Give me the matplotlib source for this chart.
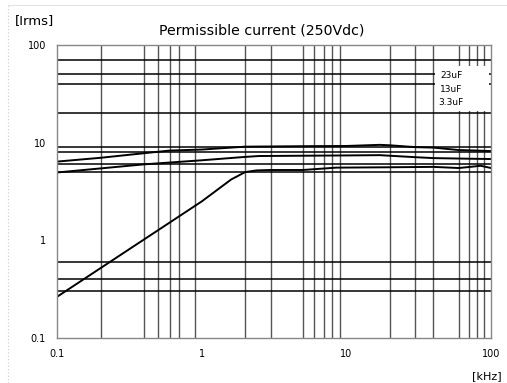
import matplotlib
matplotlib.use("Agg")
import matplotlib.pyplot as plt
from matplotlib.patches import Rectangle
from matplotlib.lines import Line2D

# Ripple current ratings per capacitance (frequency in kHz, current in Arms)
freq_23uf = [0.1, 0.2, 0.4, 0.6, 1, 2, 5, 10, 17, 20, 30, 40, 60, 80, 100]
irms_23uf = [6.4, 7.0, 7.8, 8.3, 8.5, 9.1, 9.2, 9.25, 9.5, 9.4, 9.0, 8.9, 8.4, 8.3, 8.2]

freq_13uf = [0.1, 0.4, 1, 2, 2.5, 5, 10, 17, 30, 40, 70, 100]
irms_13uf = [4.95, 6.0, 6.6, 7.15, 7.3, 7.35, 7.4, 7.45, 7.1, 6.95, 6.85, 6.8]

freq_3_3uf = [0.1, 1, 1.6, 2, 2.4, 3, 5, 6, 8.5, 20, 40, 60, 85, 100]
irms_3_3uf = [0.264, 2.5, 4.2, 5.0, 5.2, 5.25, 5.25, 5.35, 5.55, 5.6, 5.65, 5.5, 5.8, 5.5]

series_labels = ["23uF", "13uF", "3.3uF"]

# Grid positions
x_grid = [0.2, 0.4, 0.5, 0.6, 0.7, 0.9, 2, 3, 5, 6, 7, 8, 9, 20, 30, 40, 60, 70, 80, 90]
y_grid = [0.3, 0.4, 0.6, 5, 6, 8, 9, 20, 40, 50, 70]

x_ticks = [0.1, 1, 10, 100]
x_tick_labels = ["0.1", "1", "10", "100"]
y_ticks = [0.1, 1, 10, 100]
y_tick_labels = ["0.1", "1", "10", "100"]

plt.rcParams['font.family'] = ['DejaVu Sans']

fig = plt.figure(figsize=(5.07, 3.83), dpi=100)

# faint page border
fig.add_artist(Line2D([8 / 507, 8 / 507], [0, 1 - 5 / 383], transform=fig.transFigure,
                      color="#cccccc", lw=0.8, ls=(0, (1, 2))))
fig.add_artist(Line2D([8 / 507, 1], [1 - 5 / 383, 1 - 5 / 383], transform=fig.transFigure,
                      color="#e4e4e4", lw=0.8))

ax = fig.add_axes([57 / 507, 1 - 338 / 383, 434 / 507, 293 / 383])
ax.set_xscale("log")
ax.set_yscale("log")
ax.set_xlim(0.1, 100)
ax.set_ylim(0.1, 100)

for xv in x_grid:
    ax.axvline(xv, color="#555555", lw=1.0, zorder=1)
for yv in y_grid:
    ax.axhline(yv, color="black", lw=1.1, zorder=1)

for f, i in [(freq_23uf, irms_23uf), (freq_13uf, irms_13uf), (freq_3_3uf, irms_3_3uf)]:
    ax.plot(f, i, color="black", lw=1.4, zorder=3)

# legend panel
ax.add_patch(Rectangle((41, 21), 56, 40, facecolor="white", edgecolor="none", zorder=4))
for lbl, yv in zip(series_labels, [48.5, 35.0, 26.0]):
    ax.text(53, yv, lbl, ha="center", va="center", fontsize=6.5, zorder=5)

ax.set_xticks(x_ticks)
ax.set_xticklabels(x_tick_labels)
ax.set_yticks(y_ticks)
ax.set_yticklabels(y_tick_labels)
ax.minorticks_off()
ax.tick_params(axis="both", length=0, labelsize=7, pad=8, colors="black")
for s in ax.spines.values():
    s.set_color("#888888")
    s.set_linewidth(1.0)
    s.set_zorder(6)

fig.text(262 / 507, 1 - 30 / 383, "Permissible current (250Vdc)", ha="center", va="center", fontsize=10.2)
fig.text(15 / 507, 1 - 21 / 383, "[Irms]", ha="left", va="center", fontsize=9.5)
fig.text(502 / 507, 1 - 376 / 383, "[kHz]", ha="right", va="center", fontsize=8)

fig.savefig("out.png", dpi=100)
